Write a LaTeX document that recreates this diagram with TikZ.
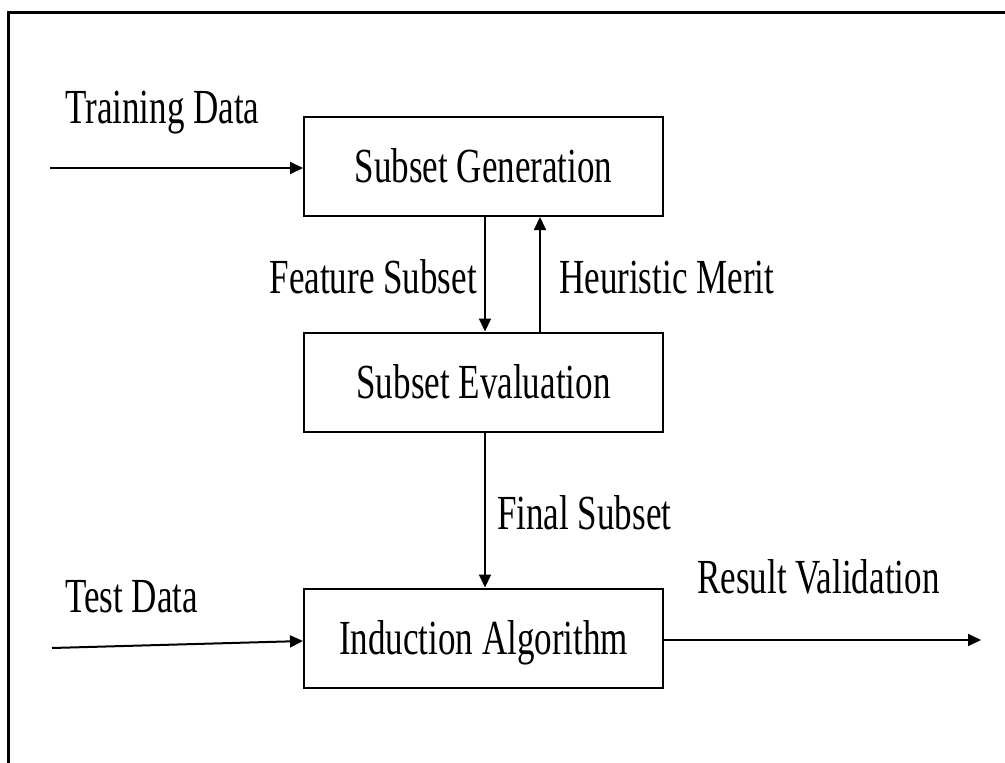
\documentclass[tikz,border=0pt]{standalone}
\usepackage{fontspec}
\usepackage{graphicx}
\setmainfont{Liberation Serif}
\usetikzlibrary{arrows.meta}

\newcommand{\narrow}[1]{\scalebox{0.715}[1]{#1}}

\tikzset{
  stagebox/.style={draw, line width=2pt, minimum width=359pt, minimum height=99pt,
    inner sep=0pt, text height=34pt, text depth=2pt,
    font=\fontsize{49pt}{55pt}\selectfont},
  lbl/.style={inner sep=0pt, anchor=base west, font=\fontsize{49pt}{55pt}\selectfont},
  flow/.style={line width=2pt, -{Triangle[length=13pt,width=12pt]}}
}

\begin{document}
\begin{tikzpicture}[x=1pt,y=-1pt]
  \useasboundingbox (0,0) rectangle (1005,763);
  \begin{scope}
    \clip (0,0) rectangle (1005,763);
    % outer frame
    \draw[line width=3pt] (8,800) -- (8,12) -- (1050,12);
  \end{scope}

  % stages
  \node[stagebox] (gen)  at (483.5,166.5) {\narrow{Subset Generation}};
  \node[stagebox] (eval) at (483.5,382)   {\narrow{Subset Evaluation}};
  \node[stagebox] (ind)  at (483.5,638)   {\narrow{Induction Algorithm}};

  % labels
  \node[lbl] (ltrain) at (65,123)  {\narrow{Training Data}};
  \node[lbl, anchor=base east] (lfeat) at (477,293) {\narrow{Feature Subset}};
  \node[lbl] (lheur)  at (559,293) {\narrow{Heuristic Merit}};
  \node[lbl] (lfinal) at (497,529) {\narrow{Final Subset}};
  \node[lbl] (ltest)  at (65,612)  {\narrow{Test Data}};
  \node[lbl] (lres)   at (697,593) {\narrow{Result Validation}};

  % free ends
  \coordinate (trainin) at (50,168);
  \coordinate (testin)  at (52,648);
  \coordinate (resout)  at (981,640);

  % connectors
  \draw[flow] (trainin) -- (gen.west |- trainin);
  \draw[flow] (gen.south -| 485,0) -- (eval.north -| 485,0);
  \draw[flow] (eval.north -| 540,0) -- (gen.south -| 540,0);
  \draw[flow] (eval.south -| 485,0) -- (ind.north -| 485,0);
  \draw[flow] (testin) -- (ind.west |- 0,641);
  \draw[flow] (ind.east |- resout) -- (resout);
\end{tikzpicture}
\end{document}
